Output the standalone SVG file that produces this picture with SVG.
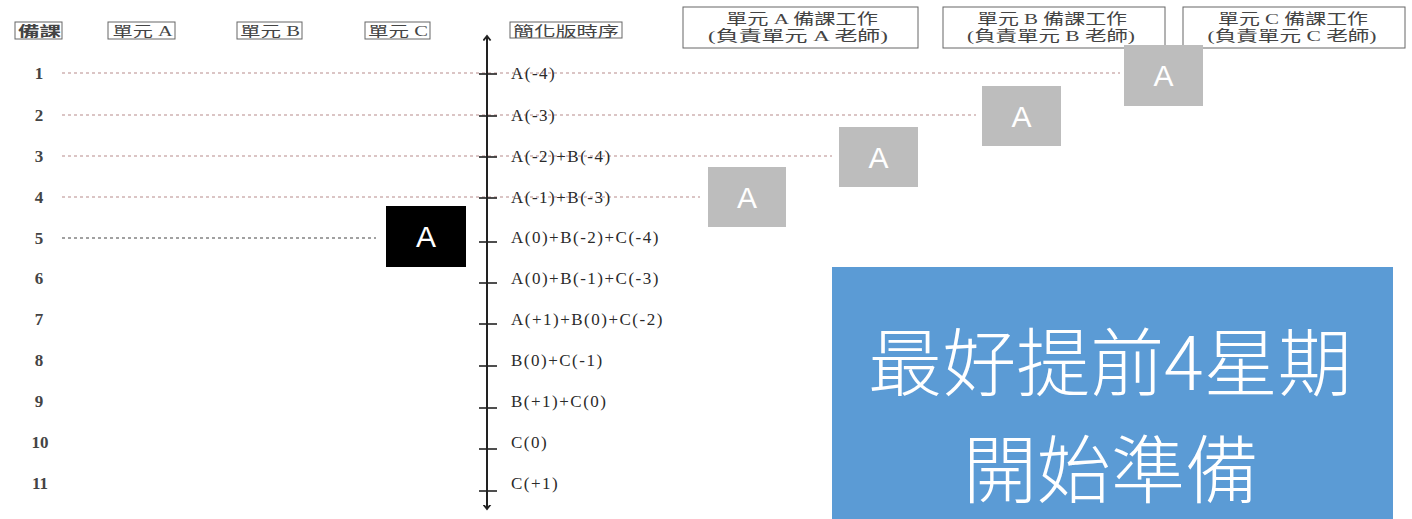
<svg xmlns="http://www.w3.org/2000/svg" width="1412" height="519" viewBox="0 0 1412 519">
<style>
.hdr{fill:#fff;stroke:#666;stroke-width:1}
.ht{font-family:"Liberation Serif","Noto Sans CJK TC",serif;font-size:15px;fill:#444;text-anchor:middle}
.hs{font-family:"Liberation Serif","Noto Sans CJK TC",serif;font-size:14px;fill:#444;text-anchor:middle}
.num{font-family:"Liberation Serif",serif;font-size:17px;font-weight:bold;fill:#444;text-anchor:middle}
.lbl{font-family:"Liberation Serif",serif;font-size:17px;letter-spacing:1.5px;fill:#2a2a2a}
.dr{stroke:#b88c8c;stroke-width:1.2;stroke-dasharray:3 3;fill:none}
.dk{stroke:#444;stroke-width:1.2;stroke-dasharray:3 3;fill:none}
.gb{fill:#bdbdbd}
.at{font-family:"Liberation Sans","Open Sans",sans-serif;font-size:30px;fill:#fff;text-anchor:middle}
.tick{stroke:#222;stroke-width:1.6}
.big{font-family:"Noto Sans CJK TC",sans-serif;font-size:74px;fill:#fff;text-anchor:middle;font-weight:300}
</style>
<defs>
<marker id="ah" viewBox="0 0 10 10" refX="5" refY="5" markerWidth="9" markerHeight="9" orient="auto-start-reverse" markerUnits="userSpaceOnUse">
<path d="M0,1 L5,5 L0,9" fill="none" stroke="#222" stroke-width="2"/>
</marker>
</defs>
<rect width="1412" height="519" fill="#fff"/>

<g id="headers">
<rect class="hdr" x="15" y="22" width="47" height="17"/><text class="hs" x="39.5" y="36" font-weight="bold" textLength="43" lengthAdjust="spacingAndGlyphs">備課</text>
<rect class="hdr" x="108" y="22" width="67" height="17"/><text class="hs" x="142.5" y="36" textLength="60" lengthAdjust="spacingAndGlyphs">單元 A</text>
<rect class="hdr" x="237" y="22" width="65" height="17"/><text class="hs" x="270" y="36" textLength="60" lengthAdjust="spacingAndGlyphs">單元 B</text>
<rect class="hdr" x="365" y="22" width="65" height="17"/><text class="hs" x="398" y="36" textLength="60" lengthAdjust="spacingAndGlyphs">單元 C</text>
<rect class="hdr" x="510" y="22" width="112" height="16"/><text class="hs" x="566" y="35.5" textLength="106" lengthAdjust="spacingAndGlyphs">簡化版時序</text>
</g>
<g id="teacherA"><rect class="hdr" x="683" y="7" width="235" height="41"/><text class="ht" x="802" y="24" textLength="152" lengthAdjust="spacingAndGlyphs">單元 A 備課工作</text><text class="ht" x="798" y="41" textLength="180" lengthAdjust="spacingAndGlyphs">(負責單元 A 老師)</text></g>
<g id="teacherB"><rect class="hdr" x="943" y="7" width="222" height="41"/><text class="ht" x="1052" y="24" textLength="150" lengthAdjust="spacingAndGlyphs">單元 B 備課工作</text><text class="ht" x="1051" y="41" textLength="168" lengthAdjust="spacingAndGlyphs">(負責單元 B 老師)</text></g>
<g id="teacherC"><rect class="hdr" x="1183" y="7" width="222" height="41"/><text class="ht" x="1293" y="24" textLength="150" lengthAdjust="spacingAndGlyphs">單元 C 備課工作</text><text class="ht" x="1292" y="41" textLength="169" lengthAdjust="spacingAndGlyphs">(負責單元 C 老師)</text></g>

<g id="connectors">
<line class="dr" x1="62" y1="73" x2="1120" y2="73"/>
<line class="dr" x1="62" y1="115" x2="976" y2="115"/>
<line class="dr" x1="62" y1="156" x2="832" y2="156"/>
<line class="dr" x1="62" y1="197" x2="700" y2="197"/>
<line class="dk" x1="62" y1="238" x2="376" y2="238"/>
<line x1="487" y1="36" x2="487" y2="509" stroke="#222" stroke-width="2" marker-start="url(#ah)" marker-end="url(#ah)"/>
<g class="tick">
<line x1="479" y1="74" x2="497" y2="74"/>
<line x1="479" y1="116" x2="497" y2="116"/>
<line x1="479" y1="157" x2="497" y2="157"/>
<line x1="479" y1="198" x2="497" y2="198"/>
<line x1="479" y1="242" x2="497" y2="242"/>
<line x1="479" y1="283" x2="497" y2="283"/>
<line x1="479" y1="324" x2="497" y2="324"/>
<line x1="479" y1="366" x2="497" y2="366"/>
<line x1="479" y1="408" x2="497" y2="408"/>
<line x1="479" y1="449" x2="497" y2="449"/>
<line x1="479" y1="491" x2="497" y2="491"/>
</g>
</g>

<g id="rows">
<text class="num" x="39" y="79">1</text>
<text class="num" x="39" y="121">2</text>
<text class="num" x="39" y="162">3</text>
<text class="num" x="39" y="203">4</text>
<text class="num" x="39" y="244">5</text>
<text class="num" x="39" y="284">6</text>
<text class="num" x="39" y="325">7</text>
<text class="num" x="39" y="366">8</text>
<text class="num" x="39" y="407">9</text>
<text class="num" x="40" y="448">10</text>
<text class="num" x="40" y="489">11</text>
</g>

<g id="timeline">
<text class="lbl" x="511" y="79">A(-4)</text>
<text class="lbl" x="511" y="121">A(-3)</text>
<text class="lbl" x="511" y="162">A(-2)+B(-4)</text>
<text class="lbl" x="511" y="203">A(-1)+B(-3)</text>
<text class="lbl" x="511" y="243">A(0)+B(-2)+C(-4)</text>
<text class="lbl" x="511" y="284">A(0)+B(-1)+C(-3)</text>
<text class="lbl" x="511" y="325">A(+1)+B(0)+C(-2)</text>
<text class="lbl" x="511" y="366">B(0)+C(-1)</text>
<text class="lbl" x="511" y="407">B(+1)+C(0)</text>
<text class="lbl" x="511" y="448">C(0)</text>
<text class="lbl" x="511" y="489">C(+1)</text>
</g>

<g id="boxA4"><rect class="gb" x="1124" y="45" width="79" height="61"/><text class="at" x="1163.5" y="86">A</text></g>
<g id="boxA3"><rect class="gb" x="982" y="86" width="79" height="60"/><text class="at" x="1021.5" y="127">A</text></g>
<g id="boxA2"><rect class="gb" x="839" y="127" width="79" height="60"/><text class="at" x="878.5" y="168">A</text></g>
<g id="boxA1"><rect class="gb" x="708" y="167" width="78" height="60"/><text class="at" x="747" y="208">A</text></g>
<g id="boxA0"><rect fill="#000" x="386" y="206" width="80" height="61"/><text class="at" x="426" y="247">A</text></g>

<g id="note">
<rect x="832" y="267" width="561" height="252" fill="#5b9bd5"/>
<text class="big" x="1110" y="390">最好提前4星期</text>
<text class="big" x="1111" y="497">開始準備</text>
</g>
</svg>
